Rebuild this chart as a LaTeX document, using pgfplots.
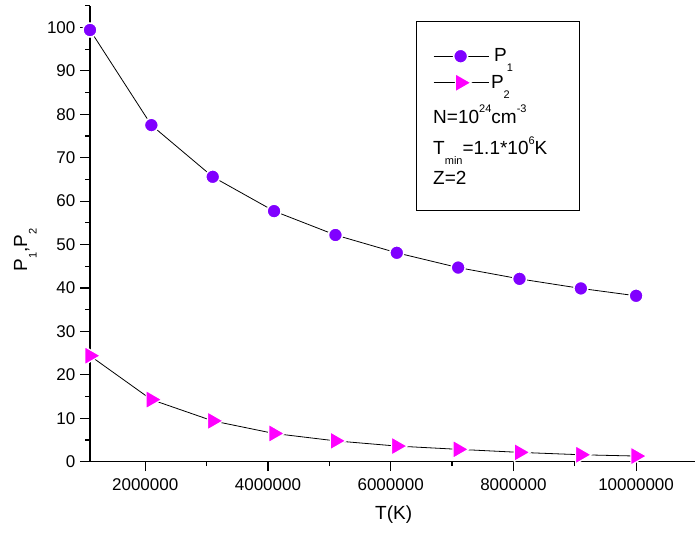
\documentclass[border=0pt]{standalone}
\usepackage{fontspec}
\setmainfont{Liberation Sans}
\usepackage{pgfplots}
\pgfplotsset{compat=1.18}

\definecolor{pone}{RGB}{128,0,255}
\definecolor{ptwo}{RGB}{255,0,255}

\newcommand{\lsub}[1]{\raisebox{-0.5em}{\fontsize{11bp}{11bp}\selectfont #1}}
\newcommand{\lsup}[1]{\raisebox{0.55em}{\fontsize{11bp}{11bp}\selectfont #1}}

\begin{document}
\begin{tikzpicture}
\useasboundingbox (-90bp,-76.3bp) rectangle (605bp,461.7bp);
\begin{axis}[
    scale only axis,
    width=605bp, height=456bp,
    xmin=1100000, xmax=10960000,
    ymin=0, ymax=105,
    axis x line*=bottom, axis y line*=left,
    axis line style={-, line width=1.2bp},
    tick align=outside,
    major tick length=9.5bp, minor tick length=4.5bp,
    every tick/.style={black, line width=1.2bp},
    xtick={2000000,4000000,6000000,8000000,10000000},
    minor xtick={3000000,5000000,7000000,9000000},
    ytick={0,10,...,100},
    minor ytick={5,15,...,105},
    scaled x ticks=false,
    xticklabel style={yshift=-4bp, /pgf/number format/.cd, fixed, precision=0, 1000 sep={}},
    yticklabel style={xshift=-1.6bp},
    /pgf/number format/assume math mode=true,
    tick label style={font=\fontsize{17bp}{19bp}\selectfont},
    label style={font=\fontsize{19bp}{22bp}\selectfont},
    xlabel={T(K)},
    ylabel={P\lsub{1},P\lsub{2}},
    xlabel style={at={(axis description cs:0.502,-0.117)}, anchor=center},
    ylabel style={at={(axis description cs:-0.107,0.464)}, anchor=center},
    clip=false,
    legend style={draw=none, fill=none, at={(axis description cs:0.567,0.910)},
        anchor=north west, inner sep=0pt, row sep=8bp,
        font=\fontsize{19bp}{22bp}\selectfont},
    legend cell align=left,
    legend image code/.code={
        \draw[mark repeat=2, mark phase=2] plot coordinates {(0bp,0bp) (27bp,0bp) (55bp,0bp)};
    },
]
\addplot[black, line width=0.8bp, mark=*, mark size=7bp,
    mark options={fill=pone, draw=white, line width=1.5bp}]
coordinates {
(1100000,99.4) (2100000,77.5) (3100000,65.6) (4100000,57.7) (5100000,52.2)
(6100000,48.1) (7100000,44.7) (8100000,42.1) (9100000,39.9) (10000000,38.2)
};
\addlegendentry{\,P\lsub{1}}
\addplot[black, line width=0.8bp, mark=triangle*, mark size=10.5bp,
    mark options={fill=ptwo, draw=white, line width=1.2bp, rotate=-90}]
coordinates {
(1100000,24.4) (2100000,14.3) (3100000,9.4) (4100000,6.5) (5100000,4.8)
(6100000,3.6) (7100000,2.85) (8100000,2.15) (9100000,1.6) (10000000,1.3)
};
\addlegendentry{P\lsub{2}}
\draw[line width=0.8bp] (axis description cs:0.540,0.552) rectangle (axis description cs:0.809,0.965);
\node[anchor=base west, inner sep=0pt, font=\fontsize{19bp}{22bp}\selectfont]
    at (axis description cs:0.567,0.742) {N=10\lsup{24}cm\lsup{-3}};
\node[anchor=base west, inner sep=0pt, font=\fontsize{19bp}{22bp}\selectfont]
    at (axis description cs:0.567,0.673) {T\lsub{min}=1.1*10\lsup{6}K};
\node[anchor=base west, inner sep=0pt, font=\fontsize{19bp}{22bp}\selectfont]
    at (axis description cs:0.567,0.607) {Z=2};
\end{axis}
\end{tikzpicture}
\end{document}
